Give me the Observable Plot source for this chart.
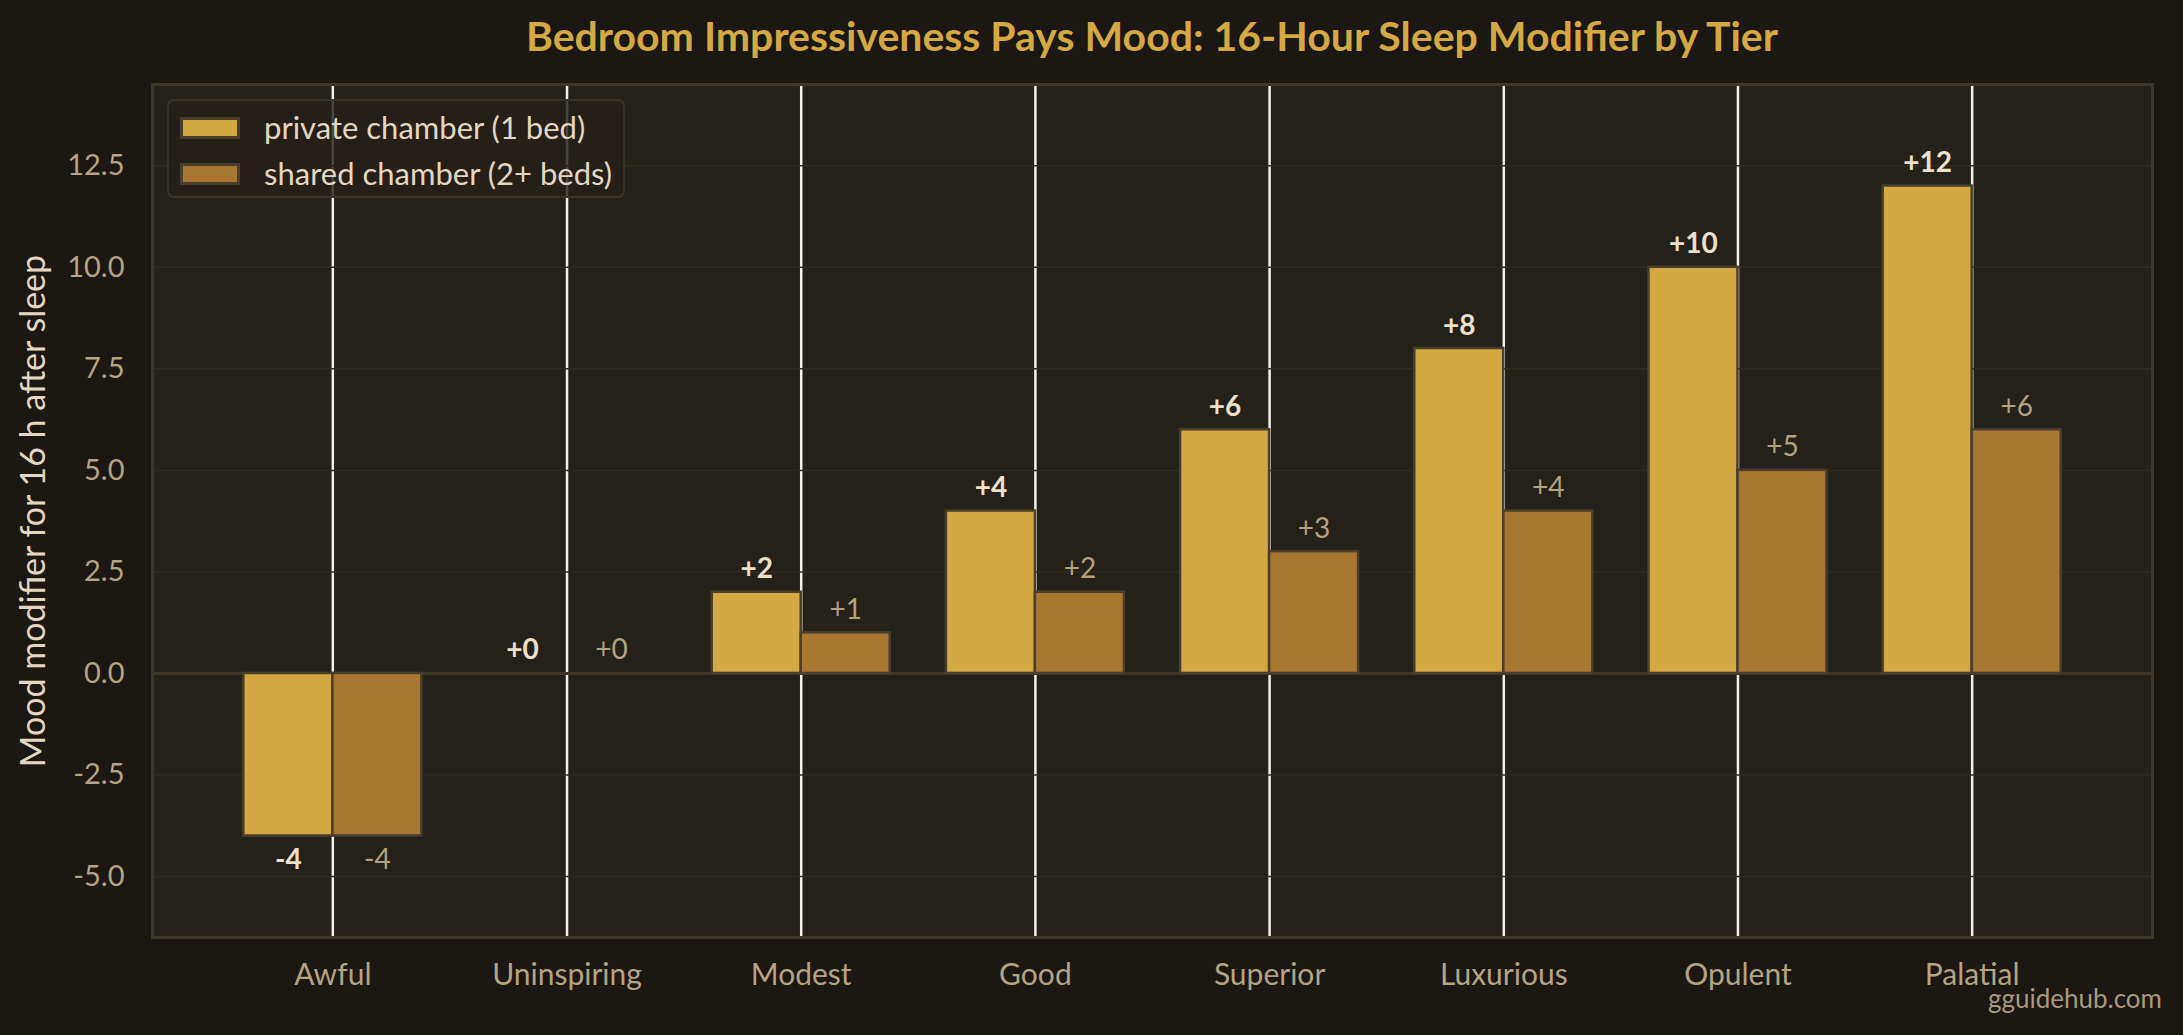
<!DOCTYPE html>
<html>
<head>
<meta charset="utf-8">
<script src="https://cdn.jsdelivr.net/npm/d3@7"></script>
<script src="https://cdn.jsdelivr.net/npm/@observablehq/plot@0.6"></script>
<style>
  html, body { margin: 0; padding: 0; background: #1b1713; }
  #wrap { position: relative; width: 2183px; height: 1035px; overflow: hidden; font-family: "Lato", sans-serif; }
  #title { position: absolute; left: 152px; width: 2000px; top: 15px; text-align: center; font-size: 41px; font-weight: 700; color: #d4a843; line-height: 1; }
  #legend { position: absolute; left: 167px; top: 99px; width: 454px; height: 95px; border: 2px solid #3a3327; border-radius: 7px; background: rgba(36,32,26,0.82); }
  .row { position: absolute; left: 11px; display: flex; align-items: center; }
  .sw { width: 54px; height: 16px; border: 3px solid #4a3f2c; }
  .lt { margin-left: 24px; font-size: 31px; color: #e3d7c1; line-height: 1; }
  #credit { position: absolute; right: 21px; top: 985px; font-size: 26px; color: #a99a7b; line-height: 1; }
</style>
</head>
<body>
<div id="wrap">
  <div id="chart"></div>
  <div id="title"></div>
  <div id="legend"></div>
  <div id="credit"></div>
</div>
<script>
const titleText = "Bedroom Impressiveness Pays Mood: 16-Hour Sleep Modifier by Tier";
const yLabel = "Mood modifier for 16 h after sleep";
const creditText = "gguidehub.com";
const tiers = ["Awful", "Uninspiring", "Modest", "Good", "Superior", "Luxurious", "Opulent", "Palatial"];
const privateMood = [-4, 0, 2, 4, 6, 8, 10, 12];
const sharedMood = [-4, 0, 1, 2, 3, 4, 5, 6];
const seriesKeys = ["private", "shared"];
const seriesNames = ["private chamber (1 bed)", "shared chamber (2+ beds)"];
const seriesColors = ["#d4a843", "#a87832"];
const yTicks = [-5, -2.5, 0, 2.5, 5, 7.5, 10, 12.5];

const W = 0.38;
const tierIdx = d3.range(tiers.length);
const rows = tiers.flatMap((t, i) => [
  {i, tier: t, series: "private", v: privateMood[i], x1: i - W, x2: i},
  {i, tier: t, series: "shared", v: sharedMood[i], x1: i, x2: i + W}
]);
const fmt = d => (d.v >= 0 ? "+" : "-") + Math.abs(d.v);
const mid = d => (d.x1 + d.x2) / 2;

const labelStyle = {
  private: {fill: "#ece0c9", fontWeight: 700},
  shared: {fill: "#b3a37f", fontWeight: 400}
};
const labelMarks = seriesKeys.flatMap(s => [
  Plot.text(rows, {filter: d => d.series === s && d.v >= 0, x: mid, y: "v", text: fmt,
    lineAnchor: "bottom", dy: -14, fontSize: 28, ...labelStyle[s]}),
  Plot.text(rows, {filter: d => d.series === s && d.v < 0, x: mid, y: "v", text: fmt,
    lineAnchor: "top", dy: 13, fontSize: 28, ...labelStyle[s]})
]);

const chart = Plot.plot({
  width: 2183,
  height: 1035,
  marginTop: 84,
  marginBottom: 98,
  marginLeft: 152,
  marginRight: 31,
  style: {background: "#1b1713", fontFamily: "Lato, sans-serif"},
  x: {domain: [-0.77, tiers.length - 1 + 0.77]},
  y: {domain: [-6.5, 14.5]},
  color: {domain: seriesKeys, range: seriesColors},
  marks: [
    Plot.frame({fill: "#24201a"}),
    Plot.ruleX(tierIdx, {stroke: "#f2f0ec", strokeWidth: 2.5}),
    Plot.ruleY(yTicks, {stroke: "#302b21", strokeWidth: 1.5}),
    Plot.ruleY([0], {stroke: "#3f382a", strokeWidth: 3}),
    Plot.rectY(rows, {x1: "x1", x2: "x2", y1: 0, y2: "v", fill: "series", stroke: "#4a3f2c", strokeWidth: 2.5}),
    ...labelMarks,
    Plot.axisX({ticks: tierIdx, tickFormat: i => tiers[i], tickSize: 0, tickPadding: 26, fontSize: 30, fill: "#b4a482", color: "#b4a482", label: null}),
    Plot.axisY({ticks: yTicks, tickFormat: v => v.toFixed(1), tickSize: 0, tickPadding: 28, fontSize: 29, fill: "#b4a482", color: "#b4a482", label: null}),
    Plot.text([yLabel], {frameAnchor: "left", dx: -132, rotate: -90, lineAnchor: "top", textAnchor: "middle", fontSize: 34, fill: "#e3d7c1"}),
    Plot.frame({stroke: "#3e372a", strokeWidth: 3})
  ]
});
document.getElementById("chart").appendChild(chart);
document.getElementById("title").textContent = titleText;
document.getElementById("credit").textContent = creditText;

const legend = document.getElementById("legend");
seriesNames.forEach((name, k) => {
  const row = document.createElement("div");
  row.className = "row";
  row.style.top = (11 + k * 46) + "px";
  const sw = document.createElement("div");
  sw.className = "sw";
  sw.style.background = seriesColors[k];
  const lt = document.createElement("div");
  lt.className = "lt";
  lt.textContent = name;
  row.appendChild(sw);
  row.appendChild(lt);
  legend.appendChild(row);
});
</script>
</body>
</html>
